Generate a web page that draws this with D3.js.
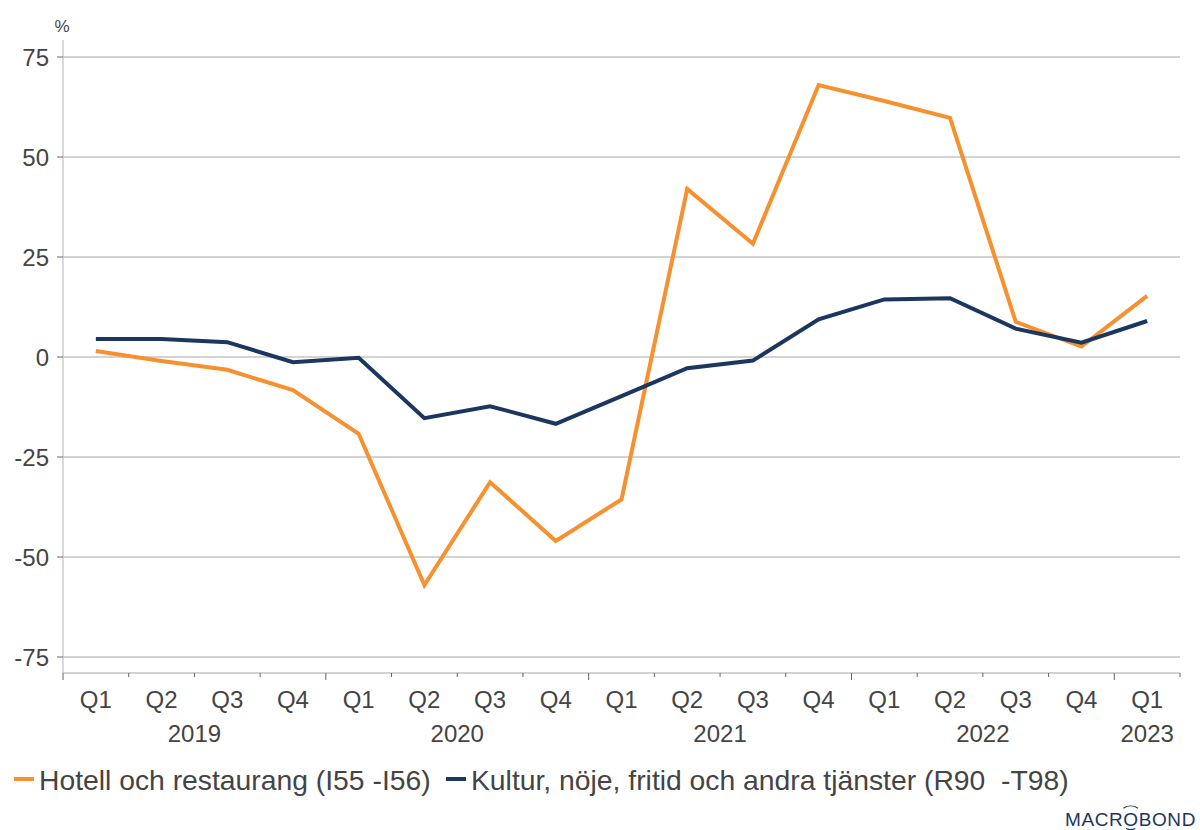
<!DOCTYPE html>
<html>
<head>
<meta charset="utf-8">
<script src="https://cdn.jsdelivr.net/npm/d3@7"></script>
<style>
  body { margin: 0; background: #fff; }
  svg { font-family: "Liberation Sans", Arial, sans-serif; }
  text { white-space: pre; }
</style>
</head>
<body>
<svg id="chart" width="1200" height="830"></svg>
<script>
// data
const quarters = ["Q1", "Q2", "Q3", "Q4", "Q1", "Q2", "Q3", "Q4", "Q1", "Q2", "Q3", "Q4", "Q1", "Q2", "Q3", "Q4", "Q1"]
const years = ["2019", "2020", "2021", "2022", "2023"]
const hotell = [1.5, -1, -3.2, -8.3, -19.2, -57, -31.3, -46, -35.6, 42, 28.3, 68, 64, 59.8, 8.8, 2.6, 15.3]
const kultur = [4.5, 4.5, 3.7, -1.3, -0.2, -15.3, -12.3, -16.7, -9.8, -2.8, -0.9, 9.4, 14.4, 14.7, 7.1, 3.6, 9]
const yTicks = [75, 50, 25, 0, -25, -50, -75]
const seriesNames = ["Hotell och restaurang (I55 -I56)", "Kultur, nöje, fritid och andra tjänster (R90  -T98)"]
const colors = ["#f7902e", "#1b365f"]

const svg = d3.select("#chart")
const left = 63, right = 1180, axisY = 673
const textColor = "#444"

const x = d3.scaleLinear().domain([0, quarters.length]).range([left, right])
const y = d3.scaleLinear().domain([-75, 75]).range([657, 57])

// gridlines
svg.append("g")
  .selectAll("line")
  .data(yTicks)
  .join("line")
  .attr("x1", left).attr("x2", right)
  .attr("y1", (d) => y(d)).attr("y2", (d) => y(d))
  .attr("stroke", "#c4c4c4").attr("stroke-width", 1.3)

// y axis
svg.append("line")
  .attr("x1", left).attr("x2", left).attr("y1", 40).attr("y2", axisY)
  .attr("stroke", "#c4c4c4").attr("stroke-width", 1.3)

const yAxis = svg.append("g")
yAxis.selectAll("line")
  .data(yTicks)
  .join("line")
  .attr("x1", left - 6).attr("x2", left)
  .attr("y1", (d) => y(d)).attr("y2", (d) => y(d))
  .attr("stroke", "#666").attr("stroke-width", 1)
yAxis.selectAll("text")
  .data(yTicks)
  .join("text")
  .attr("x", left - 14).attr("y", (d) => y(d))
  .attr("dy", "0.36em")
  .attr("text-anchor", "end")
  .attr("font-size", 24).attr("fill", textColor)
  .text((d) => d)

svg.append("text")
  .attr("x", 62).attr("y", 32)
  .attr("text-anchor", "middle")
  .attr("font-size", 17).attr("fill", textColor)
  .text("%")

// x axis
svg.append("line")
  .attr("x1", left).attr("x2", right).attr("y1", axisY).attr("y2", axisY)
  .attr("stroke", "#c4c4c4").attr("stroke-width", 1.3)

const xAxis = svg.append("g")
xAxis.selectAll("line")
  .data(d3.range(quarters.length + 1))
  .join("line")
  .attr("x1", (d) => x(d)).attr("x2", (d) => x(d))
  .attr("y1", axisY).attr("y2", (d) => (d % 4 === 0 ? axisY + 7 : axisY + 4))
  .attr("stroke", "#666").attr("stroke-width", 1)

xAxis.selectAll("text.q")
  .data(quarters)
  .join("text")
  .attr("class", "q")
  .attr("x", (d, i) => x(i + 0.5)).attr("y", 708)
  .attr("text-anchor", "middle")
  .attr("font-size", 24).attr("fill", textColor)
  .text((d) => d)

xAxis.selectAll("text.yr")
  .data(years)
  .join("text")
  .attr("class", "yr")
  .attr("x", (d, i) => (i < 4 ? x(i * 4 + 2) : x(i * 4 + 0.5)))
  .attr("y", 742)
  .attr("text-anchor", "middle")
  .attr("font-size", 24).attr("fill", textColor)
  .text((d) => d)

// lines
const line = d3.line()
  .x((d, i) => x(i + 0.5))
  .y((d) => y(d))

;[hotell, kultur].forEach((s, k) => {
  svg.append("path")
    .datum(s)
    .attr("fill", "none")
    .attr("stroke", colors[k])
    .attr("stroke-width", 4)
    .attr("stroke-linejoin", "miter")
    .attr("d", line)
})

// legend
const legendX = [14, 446]
seriesNames.forEach((name, k) => {
  svg.append("line")
    .attr("x1", legendX[k]).attr("x2", legendX[k] + 20)
    .attr("y1", 779).attr("y2", 779)
    .attr("stroke", colors[k]).attr("stroke-width", 4)
  svg.append("text")
    .attr("x", legendX[k] + 25).attr("y", 790)
    .attr("font-size", 28.3).attr("fill", textColor)
    .text(name)
})

// logo
const logo = svg.append("text")
  .attr("x", 1196).attr("y", 826)
  .attr("text-anchor", "end")
  .attr("font-size", 19).attr("letter-spacing", 0.6)
  .attr("fill", "#1b365f")
  .text("MACROBOND")
const ln = logo.node()
const oCx = (ln.getStartPositionOfChar(4).x + ln.getEndPositionOfChar(4).x) / 2 - 0.3
const oCy = 826 - 7
const arc = d3.arc()
svg.append("path")
  .attr("d", arc({ innerRadius: 12.4, outerRadius: 13.6, startAngle: -0.6, endAngle: 0.6 }))
  .attr("transform", `translate(${oCx},${oCy})`)
  .attr("fill", "#1b365f")
svg.append("path")
  .attr("d", arc({ innerRadius: 10, outerRadius: 11.2, startAngle: Math.PI - 0.45, endAngle: Math.PI + 0.45 }))
  .attr("transform", `translate(${oCx},${oCy})`)
  .attr("fill", "#1b365f")
</script>
</body>
</html>
